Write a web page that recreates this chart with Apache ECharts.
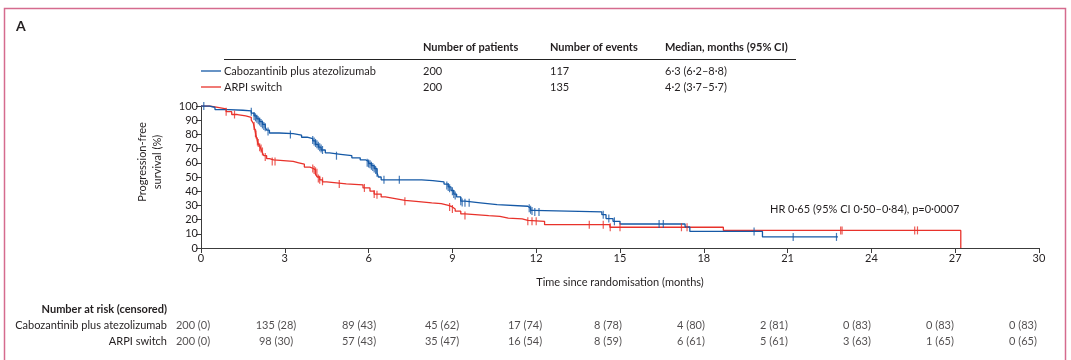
<!DOCTYPE html>
<html><head><meta charset="utf-8">
<script src="https://cdn.jsdelivr.net/npm/echarts@6/dist/echarts.min.js"></script>
<style>html,body{margin:0;padding:0;background:#fff}#c{width:1071px;height:360px}</style>
</head><body><div id="c"></div>
<script>
// ---- data ----
const seriesNames = ['Cabozantinib plus atezolizumab', 'ARPI switch'];
const numPatients = ['200', '200'];
const numEvents = ['117', '135'];
const medians = ['6·3 (6·2–8·8)', '4·2 (3·7–5·7)'];
const hrText = 'HR 0·65 (95% CI 0·50–0·84), p=0·0007';

// Kaplan-Meier steps [months, survival %]
const caboSteps = [[0,100],[0.3,99],[0.5,97.5],[1.0,97],[1.5,96.5],[1.8,95],[1.9,93],[2.0,91],[2.1,89],[2.2,87],[2.3,85],[2.35,83],[2.45,81],[2.8,80.5],[3.3,79.5],[3.6,78],[3.8,77],[4.0,75.5],[4.1,73],[4.2,71],[4.3,69],[4.45,67],[4.6,66],[5.0,65],[5.4,63.5],[5.7,62],[5.9,61],[6.0,59.5],[6.1,58],[6.2,56],[6.3,53],[6.35,50],[6.45,48],[7.9,47.5],[8.3,46.5],[8.7,45],[8.85,43],[8.95,40.5],[9.05,38],[9.15,36],[9.3,33],[9.45,31.8],[10.0,30.5],[10.6,29.4],[11.7,28],[11.8,26.5],[11.9,25.4],[14.35,23.5],[14.5,20.7],[14.75,18.8],[15.0,16.9],[17.33,14.8],[17.5,11.7],[20.1,7.8],[22.8,7.8]];
const arpiSteps = [[0,100],[0.3,99],[0.6,98],[0.9,96],[1.1,94],[1.3,93],[1.6,92],[1.8,90],[1.87,88],[1.92,84],[1.96,80],[2.0,77],[2.03,74],[2.1,72],[2.14,70],[2.2,67],[2.25,65],[2.35,63],[2.45,62],[2.6,61],[3.3,60],[3.5,59],[3.7,57],[3.9,56],[4.02,55],[4.1,52],[4.16,50],[4.25,48],[4.35,46.5],[4.5,45.2],[5.2,44.5],[5.8,42.3],[6.05,40],[6.2,38],[6.45,36],[6.6,34.6],[7.0,33.5],[7.3,32.9],[7.7,31.8],[8.26,31.3],[8.6,30],[8.86,28.9],[9.0,27.5],[9.1,25.9],[9.3,24],[9.45,22.8],[10.3,22.3],[10.7,21],[11.0,20.5],[11.5,19.5],[11.7,18.8],[12.3,16.4],[14.64,14.6],[18.7,12.4],[27.2,12.4],[27.2,0]];

// censoring marks [months, survival %]
const caboCensors = [[0.1,100],[1.8,96],[1.9,93],[1.95,92],[2.0,91],[2.05,90],[2.1,89],[2.15,88],[2.2,87],[2.25,86],[2.3,85],[2.4,82],[3.2,80],[4.0,76],[4.05,75],[4.1,74],[4.15,73],[4.2,72],[4.25,71],[4.3,70],[4.35,69],[4.85,65],[5.95,60],[6.0,59.5],[6.05,59],[6.1,58],[6.15,57],[6.2,56],[6.25,55],[6.3,53],[6.55,48],[7.1,48],[8.8,44],[8.85,43],[8.9,42],[9.0,40],[9.05,38],[9.1,37],[9.3,33],[9.35,32],[9.45,31.8],[9.6,31.8],[11.75,28],[11.8,27],[11.85,26],[11.95,25.4],[12.1,25.4],[14.4,23.5],[14.6,20.7],[14.8,18.8],[16.4,16.9],[16.55,16.9],[19.8,11.7],[21.2,7.8],[22.75,7.8]];
const arpiCensors = [[0.9,96],[1.2,94],[1.9,86],[1.95,81],[1.97,80],[2.02,75],[2.05,74],[2.1,71],[2.15,70],[2.2,68],[2.3,64],[2.55,61],[2.65,61],[4.0,56],[4.05,55],[4.1,54],[4.15,53],[4.2,49],[4.25,48],[4.35,47],[4.95,45],[5.85,42.3],[6.2,38],[6.3,37.5],[7.3,32.9],[8.9,28.9],[9.0,27.5],[9.45,22.8],[11.7,18.8],[11.85,18.8],[12.0,18.8],[13.9,16.4],[14.4,16.4],[14.65,14.6],[15.0,14.6],[17.2,14.6],[17.4,14.6],[22.9,12.4],[22.95,12.4],[25.55,12.4],[25.65,12.4]];

// number at risk (censored)
const riskTimes = [0,3,6,9,12,15,18,21,24,27,30];
const riskCabo = ['200 (0)','135 (28)','89 (43)','45 (62)','17 (74)','8 (78)','4 (80)','2 (81)','0 (83)','0 (83)','0 (83)'];
const riskArpi = ['200 (0)','98 (30)','57 (43)','35 (47)','16 (54)','8 (59)','6 (61)','5 (61)','3 (63)','1 (65)','0 (65)'];

// ---- styling ----
const FONT = 'Lato';
const TXT = '#231f20';
const BLUE = '#1559a6';
const RED = '#e8322b';
const AX = '#3c3c3c';

const chart = echarts.init(document.getElementById('c'), null, {renderer:'canvas'});

const tickSym = 'path://M0,0H1V10H0Z';

const riskSeries = [riskCabo, riskArpi].map((arr, k) => ({
  type: 'scatter', xAxisIndex: 1, yAxisIndex: 1, symbolSize: 0, silent: true,
  data: riskTimes.map((t) => [t, seriesNames[k]]),
  label: { show: true, position: 'inside', formatter: p => arr[p.dataIndex], fontFamily: FONT, fontSize: 11, color: TXT }
}));

const gtext = (x, y, text, extra) => ({ type: 'text', x, y, style: Object.assign({ text, fontFamily: FONT, fontSize: 11, fill: TXT, textVerticalAlign: 'middle' }, extra || {}) });

const headerY = 47, row1 = 71, row2 = 87;
const graphics = [
  { type: 'rect', shape: { x: 4.5, y: 8.5, width: 1061, height: 400 }, style: { fill: 'none', stroke: '#d56b8e', lineWidth: 1.5 } },
  gtext(16, 26, 'A', { fontWeight: 'bold', fontSize: 14 }),
  gtext(423, headerY, 'Number of patients', { fontWeight: 'bold' }),
  gtext(550, headerY, 'Number of events', { fontWeight: 'bold' }),
  gtext(665, headerY, 'Median, months (95% CI)', { fontWeight: 'bold' }),
  { type: 'line', shape: { x1: 224, y1: 59.5, x2: 796, y2: 59.5 }, style: { stroke: '#222', lineWidth: 1 } },
  { type: 'line', shape: { x1: 201, y1: row1, x2: 221, y2: row1 }, style: { stroke: BLUE, lineWidth: 1.3 } },
  { type: 'line', shape: { x1: 201, y1: row2, x2: 221, y2: row2 }, style: { stroke: RED, lineWidth: 1.3 } },
  gtext(224, row1, seriesNames[0]), gtext(224, row2, seriesNames[1]),
  gtext(423, row1, numPatients[0]), gtext(423, row2, numPatients[1]),
  gtext(550, row1, numEvents[0]), gtext(550, row2, numEvents[1]),
  gtext(665, row1, medians[0]), gtext(665, row2, medians[1]),
  gtext(770, 209, hrText),
  { type: 'text', x: 150, y: 162, rotation: Math.PI / 2, style: { text: 'Progression-free\nsurvival (%)', fontFamily: FONT, fontSize: 11, fill: TXT, textAlign: 'center', textVerticalAlign: 'middle', lineHeight: 15 } },
  gtext(167, 309, 'Number at risk (censored)', { fontWeight: 'bold', textAlign: 'right' })
];

chart.setOption({
  animation: false,
  textStyle: { fontFamily: FONT, color: TXT },
  grid: [
    { left: 201, right: 32, top: 106, bottom: 112 },
    { left: 193, right: 48, top: 317, height: 32 }
  ],
  xAxis: [
    { type: 'value', min: 0, max: 30, interval: 3, gridIndex: 0,
      name: 'Time since randomisation (months)', nameLocation: 'middle', nameGap: 29,
      nameTextStyle: { fontFamily: FONT, fontSize: 11, color: TXT },
      axisLine: { lineStyle: { color: AX, width: 1 } },
      axisTick: { length: 5, lineStyle: { color: AX } },
      axisLabel: { fontFamily: FONT, fontSize: 11, color: TXT, margin: 5 },
      splitLine: { show: false } },
    { type: 'value', min: 0, max: 30, gridIndex: 1, show: false }
  ],
  yAxis: [
    { type: 'value', min: 0, max: 100, interval: 10, gridIndex: 0,
      axisLine: { show: true, lineStyle: { color: AX, width: 1 } },
      axisTick: { show: true, length: 5, lineStyle: { color: AX } },
      axisLabel: { fontFamily: FONT, fontSize: 11, color: TXT, margin: 3 },
      splitLine: { show: false } },
    { type: 'category', gridIndex: 1, inverse: true, data: seriesNames,
      axisLine: { show: false }, axisTick: { show: false }, splitLine: { show: false },
      axisLabel: { fontFamily: FONT, fontSize: 11, color: TXT, margin: 26 } }
  ],
  series: [
    { type: 'line', name: seriesNames[1], step: 'end', data: arpiSteps, showSymbol: false, lineStyle: { color: RED, width: 1.3 }, z: 2 },
    { type: 'line', name: seriesNames[0], step: 'end', data: caboSteps, showSymbol: false, lineStyle: { color: BLUE, width: 1.3 }, z: 3 },
    { type: 'scatter', data: arpiCensors, symbol: tickSym, symbolSize: [1.2, 8], itemStyle: { color: RED }, z: 4 },
    { type: 'scatter', data: caboCensors, symbol: tickSym, symbolSize: [1.2, 8], itemStyle: { color: BLUE }, z: 5 },
    ...riskSeries
  ],
  graphic: graphics
});
</script></body></html>
